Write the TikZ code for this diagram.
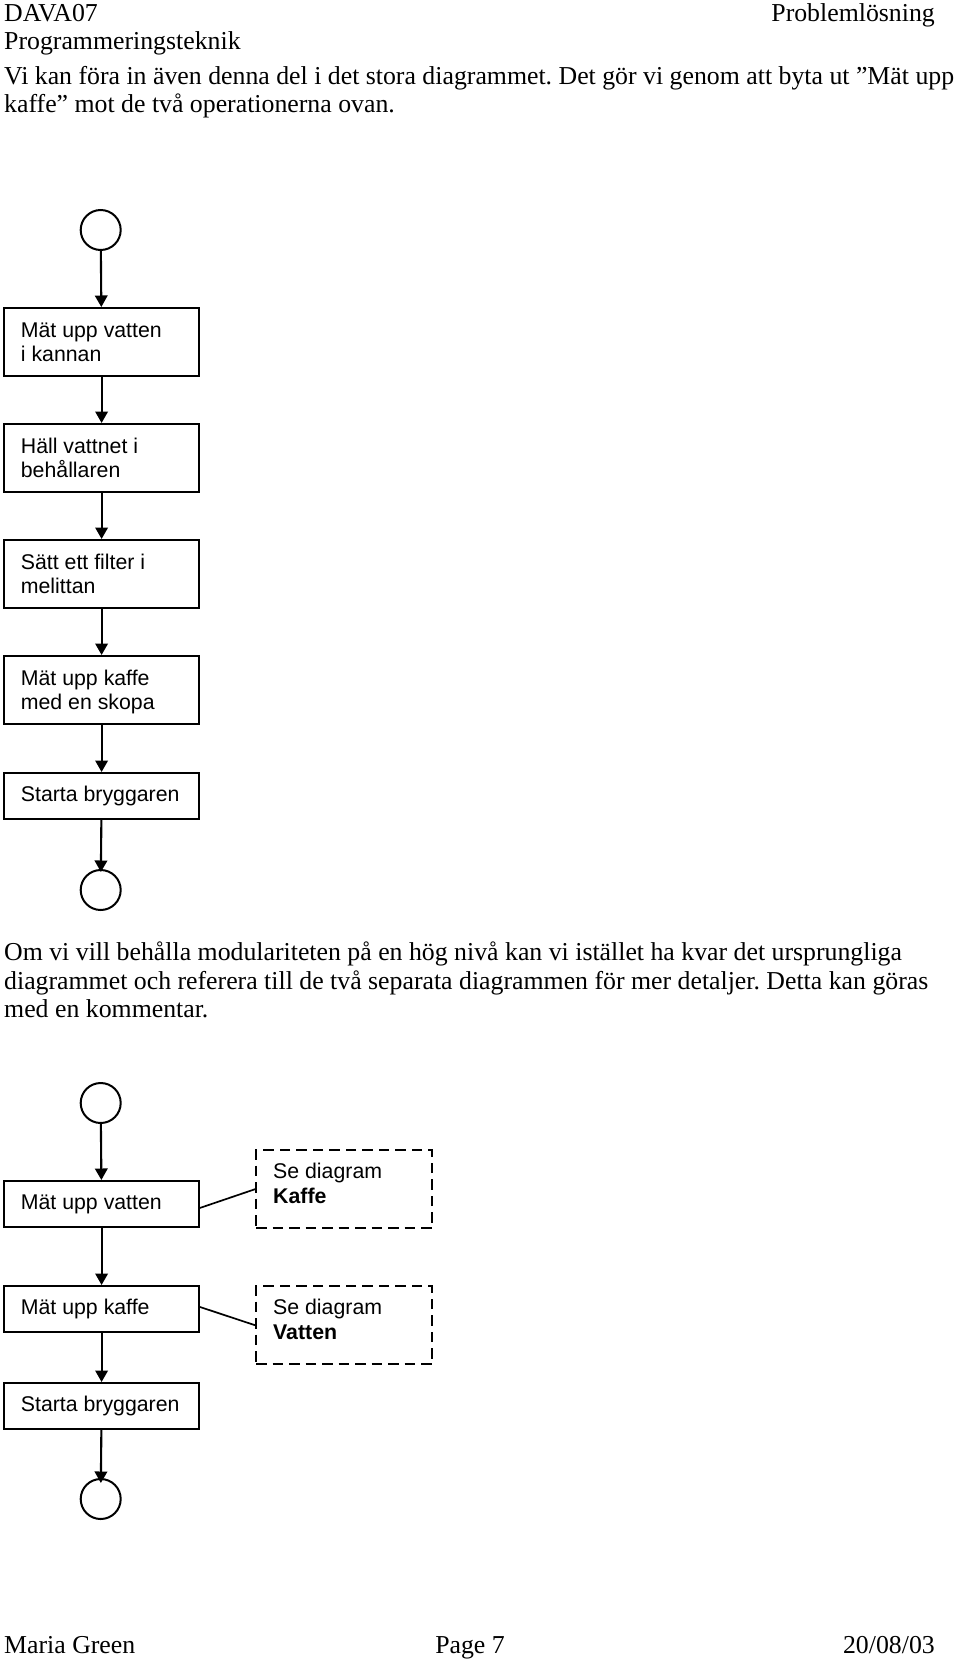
\documentclass[tikz,border=0pt]{standalone}
\usepackage{fontspec}
\setmainfont{Liberation Serif}
\newfontfamily\boxfont{Liberation Sans}
\usetikzlibrary{arrows.meta,calc}
\frenchspacing
\tikzset{
  serif/.style={inner sep=0pt, font=\fontsize{25.8pt}{29pt}\selectfont},
  boxtxt/.style={inner sep=0pt, anchor=base west, font=\boxfont\fontsize{21.3pt}{24pt}\selectfont},
  stepbox/.style={draw=black, line width=1.9pt, minimum width=194.7pt, inner sep=0pt, anchor=north west},
  tallbox/.style={stepbox, minimum height=68pt},
  lowbox/.style={stepbox, minimum height=46pt},
  endpoint/.style={draw=black, circle, line width=2pt, minimum size=40pt, inner sep=0pt},
  notebox/.style={draw=black, line width=2.4pt, dash pattern=on 10.5pt off 6pt, minimum width=176pt, minimum height=78pt, inner sep=0pt, anchor=north west},
  flow/.style={-{Triangle[length=11.5pt,width=12.5pt]}, line width=2.1pt},
  link/.style={line width=1.7pt}
}
\begin{document}
\frenchspacing
\begin{tikzpicture}[x=1pt,y=-1pt]
\fill[white] (0,0) rectangle (960,1659);
\useasboundingbox (0,0) rectangle (960,1659);

% header
\node[serif, anchor=base west] (h1) at (4,21.7) {DAVA07};
\node[serif, anchor=base east] (h2) at (935,21.7) {Problemlösning};
\node[serif, anchor=base west] (h3) at (4,50) {Programmeringsteknik};
\node[serif, anchor=base west] (p1) at (4,85) {Vi kan föra in även denna del i det stora diagrammet. Det gör vi genom att byta ut ”Mät upp};
\node[serif, anchor=base west] (p2) at (4,113) {kaffe” mot de två operationerna ovan.};

% top flow chart
\node[endpoint] (c1) at (100.7,230) {};
\node[tallbox] (b1) at (3.3,307) {};
\node[tallbox] (b2) at (3.3,423) {};
\node[tallbox] (b3) at (3.3,539) {};
\node[tallbox] (b4) at (3.3,655) {};
\node[lowbox] (b5) at (3.3,772) {};
\node[endpoint] (c2) at (100.7,890) {};

\node[boxtxt] (t1a) at (20.7,337.7) {Mät upp vatten};
\node[boxtxt] (t1b) at (20.7,361.5) {i kannan};
\node[boxtxt] (t2a) at (20.7,453.7) {Häll vattnet i};
\node[boxtxt] (t2b) at (20.7,477.5) {behållaren};
\node[boxtxt] (t3a) at (20.7,569.7) {Sätt ett filter i};
\node[boxtxt] (t3b) at (20.7,593.5) {melittan};
\node[boxtxt] (t4a) at (20.7,685.7) {Mät upp kaffe};
\node[boxtxt] (t4b) at (20.7,709.5) {med en skopa};
\node[boxtxt] (t5) at (20.7,801.5) {Starta bryggaren};

\draw[flow] (c1) -- (b1);
\draw[flow] (b1) -- (b2);
\draw[flow] (b2) -- (b3);
\draw[flow] (b3) -- (b4);
\draw[flow] (b4) -- (b5);
\draw[flow, shorten >=-3pt] (b5) -- (c2);

% second paragraph
\node[serif, anchor=base west] (q1) at (4,960) {Om vi vill behålla modulariteten på en hög nivå kan vi istället ha kvar det ursprungliga};
\node[serif, anchor=base west] (q2) at (4,989) {diagrammet och referera till de två separata diagrammen för mer detaljer. Detta kan göras};
\node[serif, anchor=base west] (q3) at (4,1017.5) {med en kommentar.};

% bottom flow chart
\node[endpoint] (c3) at (100.7,1103) {};
\node[lowbox] (ba) at (3.3,1180) {};
\node[lowbox] (bb) at (3.3,1285) {};
\node[lowbox] (bc) at (3.3,1382) {};
\node[endpoint] (c4) at (100.7,1499) {};
\node[notebox] (nk) at (255,1149) {};
\node[notebox] (nv) at (255,1285) {};

\node[boxtxt] (ta) at (20.7,1209) {Mät upp vatten};
\node[boxtxt] (tb) at (20.7,1314) {Mät upp kaffe};
\node[boxtxt] (tc) at (20.7,1411) {Starta bryggaren};
\node[boxtxt] (tk1) at (273,1178.7) {Se diagram};
\node[boxtxt, font=\boxfont\bfseries\fontsize{21.3pt}{24pt}\selectfont] (tk2) at (273,1203.3) {Kaffe};
\node[boxtxt] (tv1) at (273,1314.3) {Se diagram};
\node[boxtxt, font=\boxfont\bfseries\fontsize{21.3pt}{24pt}\selectfont] (tv2) at (273,1339.3) {Vatten};

\draw[flow] (c3) -- (ba);
\draw[flow] (ba) -- (bb);
\draw[flow] (bb) -- (bc);
\draw[flow, shorten >=-5pt] (bc) -- (c4);
\draw[link] ([yshift=-4pt]ba.east) -- (nk.west);
\draw[link] ([yshift=2pt]bb.east) -- (nv.west);

% footer
\node[serif, anchor=base west] (f1) at (4,1653) {Maria Green};
\node[serif, anchor=base] (f2) at (470,1653) {Page 7};
\node[serif, anchor=base east] (f3) at (935,1653) {20/08/03};
\end{tikzpicture}
\end{document}
